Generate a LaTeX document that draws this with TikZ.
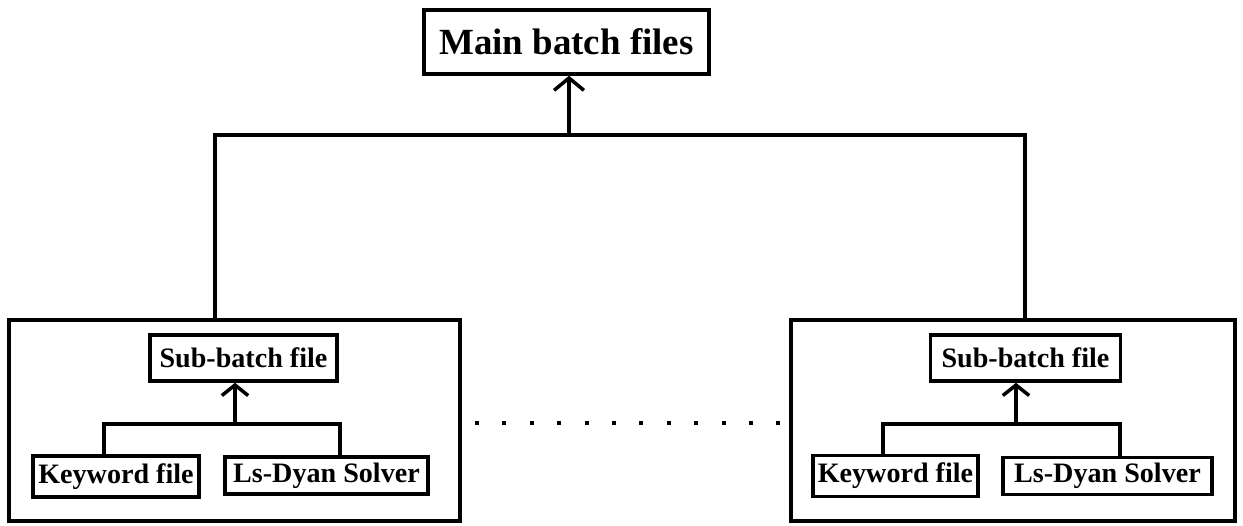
\documentclass[tikz,border=0pt]{standalone}
\usepackage{fontspec}
\setmainfont{Liberation Serif}
\usetikzlibrary{arrows.meta}

\tikzset{
    box/.style={draw, line width=2pt, inner sep=0pt, font=\bfseries\fontsize{16}{18}\selectfont},
    bigbox/.style={box, font=\bfseries\fontsize{21}{24}\selectfont},
    group/.style={draw, line width=2pt, inner sep=0pt},
    link/.style={line width=2pt},
    arr/.style={link, -{Straight Barb[length=7pt, width=17pt, line width=2pt]}}
}

\begin{document}
\begin{tikzpicture}[x=0.02cm, y=-0.02cm]
    \useasboundingbox (0,0) rectangle (1243,525);

    % top
    \node[bigbox, minimum width=5.7cm, minimum height=1.28cm] (main) at (566.5,42) {Main batch files};

    % left group
    \node[group, minimum width=9.02cm, minimum height=4.02cm] (grpL) at (234.5,420.5) {};
    \node[box, minimum width=3.74cm, minimum height=0.92cm] (subL) at (243.5,358) {Sub-batch file};
    \node[box, minimum width=3.32cm, minimum height=0.82cm] (kwL) at (116,476.5) {Keyword file};
    \node[box, minimum width=4.06cm, minimum height=0.74cm] (lsL) at (326.5,475.5) {Ls-Dyan Solver};

    % right group
    \node[group, minimum width=8.88cm, minimum height=4.02cm] (grpR) at (1013,420.5) {};
    \node[box, minimum width=3.8cm, minimum height=0.92cm] (subR) at (1025.5,358) {Sub-batch file};
    \node[box, minimum width=3.3cm, minimum height=0.82cm] (kwR) at (895.5,476) {Keyword file};
    \node[box, minimum width=4.18cm, minimum height=0.74cm] (lsR) at (1107.5,476) {Ls-Dyan Solver};

    % junctions
    \coordinate (jm) at (569,135);
    \coordinate (jl) at (215,135);
    \coordinate (jr) at (1025,135);
    \coordinate (jsL) at (235,424);
    \coordinate (kjL) at (104,424);
    \coordinate (ljL) at (340,424);
    \coordinate (jsR) at (1016,424);
    \coordinate (kjR) at (883,424);
    \coordinate (ljR) at (1120,424);

    \draw[arr] (jm) -- (jm |- main.south);
    \draw[link] (jl |- grpL.north) -- (jl) -- (jr) -- (jr |- grpR.north);

    \draw[arr, -{Straight Barb[length=6pt, width=15pt, line width=2pt]}] (jsL) -- (jsL |- subL.south);
    \draw[link] (kjL |- kwL.north) -- (kjL) -- (ljL) -- (ljL |- lsL.north);

    \draw[arr, -{Straight Barb[length=6pt, width=15pt, line width=2pt]}] (jsR) -- (jsR |- subR.south);
    \draw[link] (kjR |- kwR.north) -- (kjR) -- (ljR) -- (ljR |- lsR.north);

    % dots between groups
    \foreach \i in {0,...,11}
        \fill ({477+27.4*\i-2},421) rectangle ++(4,4);
\end{tikzpicture}
\end{document}
